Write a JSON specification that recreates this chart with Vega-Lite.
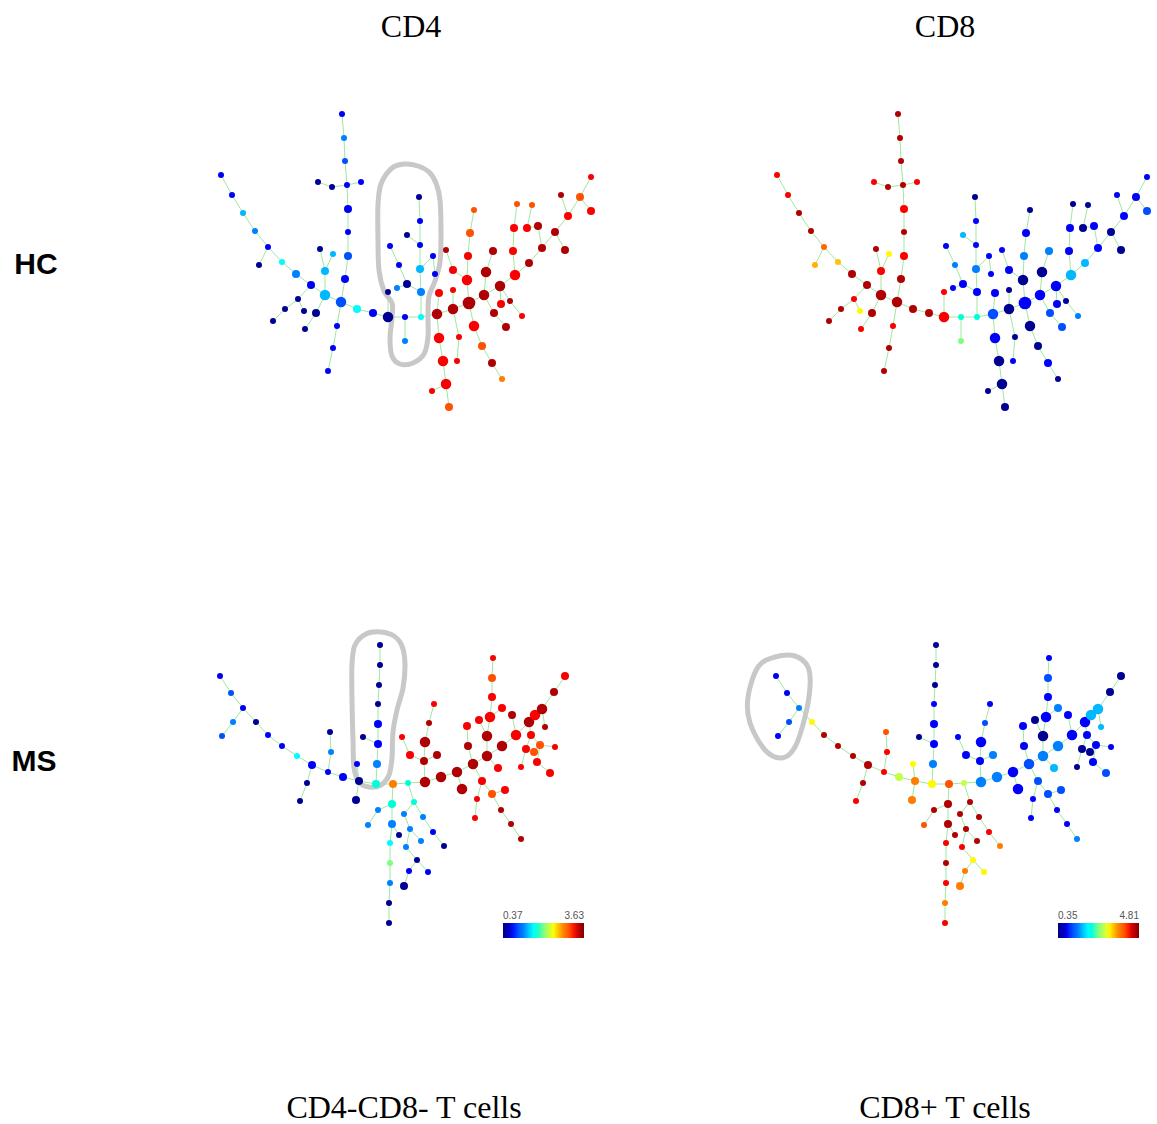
{
  "$schema": "https://vega.github.io/schema/vega-lite/v6.json",
  "width": 1157,
  "height": 1124,
  "autosize": {"type": "none"},
  "padding": 0,
  "background": "#ffffff",
  "config": {"view": {"stroke": null}},
  "datasets": {
    "nodes": [
      {"id":"h1","x":342,"y":114,"s":1,"cd4":0.76,"cd8":4.59},
      {"id":"h2","x":344,"y":138,"s":1,"cd4":1.19,"cd8":4.59},
      {"id":"h3","x":345,"y":161,"s":1,"cd4":0.96,"cd8":4.59},
      {"id":"h4","x":347,"y":185,"s":1,"cd4":0.76,"cd8":4.59},
      {"id":"h5","x":318,"y":182,"s":1,"cd4":0.44,"cd8":4.27},
      {"id":"h6","x":332,"y":187,"s":1,"cd4":0.44,"cd8":4.59},
      {"id":"h7","x":361,"y":182,"s":1,"cd4":0.76,"cd8":4.27},
      {"id":"h8","x":348,"y":209,"s":2,"cd4":0.76,"cd8":4.27},
      {"id":"h9","x":348,"y":232,"s":1,"cd4":0.76,"cd8":4.59},
      {"id":"h10","x":348,"y":256,"s":2,"cd4":0.96,"cd8":4.27},
      {"id":"h11","x":345,"y":279,"s":2,"cd4":0.76,"cd8":4.59},
      {"id":"h12","x":341,"y":302,"s":3,"cd4":0.96,"cd8":4.59},
      {"id":"h13","x":337,"y":326,"s":1,"cd4":0.76,"cd8":4.27},
      {"id":"h14","x":333,"y":348,"s":1,"cd4":0.76,"cd8":4.59},
      {"id":"h15","x":328,"y":371,"s":1,"cd4":0.76,"cd8":4.59},
      {"id":"h16","x":221,"y":175,"s":1,"cd4":0.76,"cd8":4.27},
      {"id":"h17","x":232,"y":195,"s":1,"cd4":0.76,"cd8":4.27},
      {"id":"h18","x":243,"y":213,"s":1,"cd4":1.35,"cd8":4.59},
      {"id":"h19","x":255,"y":231,"s":1,"cd4":1.19,"cd8":4.59},
      {"id":"h20","x":268,"y":247,"s":1,"cd4":0.76,"cd8":3.85},
      {"id":"h21","x":259,"y":265,"s":1,"cd4":0.44,"cd8":3.47},
      {"id":"h22","x":282,"y":262,"s":1,"cd4":1.58,"cd8":3.4},
      {"id":"h23","x":296,"y":274,"s":2,"cd4":1.19,"cd8":4.59},
      {"id":"h24","x":311,"y":285,"s":2,"cd4":0.76,"cd8":4.59},
      {"id":"h25","x":325,"y":295,"s":3,"cd4":1.35,"cd8":4.59},
      {"id":"h26","x":320,"y":249,"s":1,"cd4":0.44,"cd8":4.59},
      {"id":"h27","x":333,"y":254,"s":1,"cd4":1.35,"cd8":3.16},
      {"id":"h28","x":325,"y":271,"s":2,"cd4":1.35,"cd8":4.27},
      {"id":"h29","x":298,"y":299,"s":1,"cd4":0.44,"cd8":4.27},
      {"id":"h30","x":285,"y":309,"s":1,"cd4":0.44,"cd8":4.59},
      {"id":"h31","x":273,"y":321,"s":1,"cd4":0.44,"cd8":4.59},
      {"id":"h32","x":304,"y":311,"s":1,"cd4":0.44,"cd8":3.16},
      {"id":"h33","x":316,"y":313,"s":2,"cd4":0.44,"cd8":4.59},
      {"id":"h34","x":305,"y":329,"s":1,"cd4":0.44,"cd8":4.27},
      {"id":"h35","x":357,"y":309,"s":2,"cd4":1.58,"cd8":4.59},
      {"id":"h36","x":373,"y":313,"s":2,"cd4":0.76,"cd8":4.59},
      {"id":"h37","x":388,"y":317,"s":3,"cd4":0.44,"cd8":4.27},
      {"id":"h38","x":388,"y":292,"s":1,"cd4":0.44,"cd8":4.27},
      {"id":"h39","x":405,"y":317,"s":1,"cd4":0.76,"cd8":2.22},
      {"id":"h40","x":405,"y":341,"s":1,"cd4":1.19,"cd8":2.58},
      {"id":"h41","x":421,"y":317,"s":1,"cd4":1.58,"cd8":2.22},
      {"id":"h42","x":421,"y":292,"s":2,"cd4":1.19,"cd8":0.89},
      {"id":"h43","x":420,"y":269,"s":2,"cd4":1.35,"cd8":1.47},
      {"id":"h44","x":420,"y":245,"s":1,"cd4":0.76,"cd8":0.89},
      {"id":"h45","x":420,"y":221,"s":1,"cd4":0.76,"cd8":0.89},
      {"id":"h46","x":419,"y":197,"s":1,"cd4":0.44,"cd8":0.44},
      {"id":"h47","x":433,"y":256,"s":1,"cd4":0.76,"cd8":0.89},
      {"id":"h48","x":435,"y":274,"s":1,"cd4":0.76,"cd8":0.89},
      {"id":"h49","x":407,"y":235,"s":1,"cd4":0.44,"cd8":1.69},
      {"id":"h50","x":407,"y":284,"s":2,"cd4":0.44,"cd8":0.89},
      {"id":"h51","x":399,"y":265,"s":1,"cd4":0.76,"cd8":1.47},
      {"id":"h52","x":390,"y":246,"s":1,"cd4":0.76,"cd8":0.89},
      {"id":"h53","x":397,"y":288,"s":1,"cd4":1.19,"cd8":0.89},
      {"id":"h54","x":437,"y":314,"s":3,"cd4":3.47,"cd8":1.15},
      {"id":"h55","x":439,"y":293,"s":2,"cd4":3.24,"cd8":0.89},
      {"id":"h56","x":439,"y":338,"s":3,"cd4":3.24,"cd8":0.89},
      {"id":"h57","x":443,"y":361,"s":3,"cd4":3.24,"cd8":0.44},
      {"id":"h58","x":446,"y":384,"s":3,"cd4":3.24,"cd8":0.44},
      {"id":"h59","x":432,"y":391,"s":1,"cd4":3.24,"cd8":0.44},
      {"id":"h60","x":449,"y":407,"s":2,"cd4":3.04,"cd8":0.44},
      {"id":"h61","x":459,"y":337,"s":1,"cd4":3.24,"cd8":0.44},
      {"id":"h62","x":457,"y":361,"s":1,"cd4":3.24,"cd8":0.89},
      {"id":"h63","x":453,"y":309,"s":3,"cd4":3.47,"cd8":0.44},
      {"id":"h64","x":453,"y":290,"s":1,"cd4":3.24,"cd8":0.44},
      {"id":"h65","x":469,"y":303,"s":4,"cd4":3.47,"cd8":0.89},
      {"id":"h66","x":467,"y":280,"s":3,"cd4":3.24,"cd8":0.44},
      {"id":"h67","x":468,"y":256,"s":2,"cd4":3.24,"cd8":1.47},
      {"id":"h68","x":470,"y":233,"s":2,"cd4":3.04,"cd8":0.89},
      {"id":"h69","x":474,"y":210,"s":1,"cd4":3.04,"cd8":0.44},
      {"id":"h70","x":453,"y":270,"s":2,"cd4":3.24,"cd8":0.89},
      {"id":"h71","x":446,"y":250,"s":1,"cd4":3.47,"cd8":0.89},
      {"id":"h72","x":474,"y":326,"s":3,"cd4":3.24,"cd8":0.44},
      {"id":"h73","x":482,"y":346,"s":2,"cd4":3.04,"cd8":0.44},
      {"id":"h74","x":492,"y":363,"s":2,"cd4":3.47,"cd8":0.89},
      {"id":"h75","x":502,"y":379,"s":1,"cd4":2.82,"cd8":0.44},
      {"id":"h76","x":484,"y":295,"s":3,"cd4":3.47,"cd8":0.89},
      {"id":"h77","x":486,"y":272,"s":3,"cd4":3.47,"cd8":0.44},
      {"id":"h78","x":493,"y":251,"s":2,"cd4":3.47,"cd8":1.47},
      {"id":"h79","x":494,"y":313,"s":2,"cd4":3.47,"cd8":1.15},
      {"id":"h80","x":506,"y":327,"s":2,"cd4":3.47,"cd8":1.15},
      {"id":"h81","x":500,"y":286,"s":3,"cd4":3.47,"cd8":0.89},
      {"id":"h82","x":501,"y":304,"s":2,"cd4":3.24,"cd8":0.89},
      {"id":"h83","x":510,"y":301,"s":1,"cd4":3.47,"cd8":0.44},
      {"id":"h84","x":522,"y":316,"s":1,"cd4":3.24,"cd8":1.47},
      {"id":"h85","x":515,"y":275,"s":3,"cd4":3.24,"cd8":1.69},
      {"id":"h86","x":513,"y":251,"s":2,"cd4":3.24,"cd8":0.89},
      {"id":"h87","x":514,"y":228,"s":2,"cd4":3.24,"cd8":0.89},
      {"id":"h88","x":517,"y":204,"s":1,"cd4":3.04,"cd8":0.44},
      {"id":"h89","x":527,"y":228,"s":2,"cd4":3.24,"cd8":0.44},
      {"id":"h90","x":532,"y":205,"s":1,"cd4":3.04,"cd8":0.44},
      {"id":"h91","x":529,"y":263,"s":2,"cd4":3.47,"cd8":1.69},
      {"id":"h92","x":538,"y":226,"s":2,"cd4":3.47,"cd8":0.89},
      {"id":"h93","x":542,"y":248,"s":2,"cd4":3.47,"cd8":0.89},
      {"id":"h94","x":555,"y":232,"s":2,"cd4":3.47,"cd8":0.44},
      {"id":"h95","x":565,"y":250,"s":2,"cd4":3.47,"cd8":0.44},
      {"id":"h96","x":561,"y":195,"s":1,"cd4":3.47,"cd8":0.89},
      {"id":"h97","x":568,"y":216,"s":2,"cd4":3.24,"cd8":0.89},
      {"id":"h98","x":580,"y":197,"s":2,"cd4":3.04,"cd8":0.89},
      {"id":"h99","x":591,"y":177,"s":1,"cd4":3.24,"cd8":0.89},
      {"id":"h100","x":591,"y":211,"s":2,"cd4":3.24,"cd8":1.15},
      {"id":"m1","x":220,"y":676,"s":1,"cd4":0.76,"cd8":0.89},
      {"id":"m2","x":231,"y":693,"s":1,"cd4":0.96,"cd8":0.89},
      {"id":"m3","x":243,"y":708,"s":1,"cd4":0.76,"cd8":1.47},
      {"id":"m4","x":233,"y":722,"s":1,"cd4":1.19,"cd8":1.15},
      {"id":"m5","x":222,"y":736,"s":1,"cd4":0.96,"cd8":0.89},
      {"id":"m6","x":256,"y":722,"s":1,"cd4":0.44,"cd8":3.16},
      {"id":"m7","x":268,"y":735,"s":1,"cd4":0.76,"cd8":4.59},
      {"id":"m8","x":282,"y":746,"s":1,"cd4":0.76,"cd8":4.59},
      {"id":"m9","x":297,"y":756,"s":1,"cd4":1.58,"cd8":4.59},
      {"id":"m10","x":312,"y":765,"s":2,"cd4":0.76,"cd8":4.59},
      {"id":"m11","x":307,"y":783,"s":1,"cd4":0.44,"cd8":4.59},
      {"id":"m12","x":300,"y":801,"s":1,"cd4":0.44,"cd8":4.27},
      {"id":"m13","x":328,"y":772,"s":1,"cd4":0.76,"cd8":4.27},
      {"id":"m14","x":331,"y":752,"s":1,"cd4":1.19,"cd8":4.27},
      {"id":"m15","x":330,"y":732,"s":1,"cd4":0.44,"cd8":4.0},
      {"id":"m16","x":343,"y":777,"s":2,"cd4":0.76,"cd8":2.89},
      {"id":"m17","x":359,"y":781,"s":2,"cd4":0.44,"cd8":3.7},
      {"id":"m18","x":356,"y":800,"s":2,"cd4":0.44,"cd8":3.7},
      {"id":"m19","x":357,"y":764,"s":1,"cd4":0.76,"cd8":3.16},
      {"id":"m20","x":376,"y":784,"s":2,"cd4":1.74,"cd8":3.16},
      {"id":"m21","x":363,"y":737,"s":1,"cd4":0.44,"cd8":0.44},
      {"id":"m22","x":380,"y":645,"s":1,"cd4":0.44,"cd8":0.44},
      {"id":"m23","x":380,"y":665,"s":1,"cd4":0.44,"cd8":0.44},
      {"id":"m24","x":379,"y":685,"s":1,"cd4":0.44,"cd8":0.44},
      {"id":"m25","x":378,"y":704,"s":1,"cd4":0.44,"cd8":0.89},
      {"id":"m26","x":378,"y":724,"s":2,"cd4":0.76,"cd8":0.89},
      {"id":"m27","x":378,"y":744,"s":2,"cd4":0.76,"cd8":0.89},
      {"id":"m28","x":377,"y":764,"s":2,"cd4":1.19,"cd8":1.47},
      {"id":"m29","x":393,"y":784,"s":2,"cd4":2.82,"cd8":4.0},
      {"id":"m30","x":392,"y":804,"s":2,"cd4":1.74,"cd8":4.59},
      {"id":"m31","x":378,"y":810,"s":1,"cd4":1.19,"cd8":4.59},
      {"id":"m32","x":368,"y":825,"s":1,"cd4":1.19,"cd8":4.0},
      {"id":"m33","x":392,"y":824,"s":2,"cd4":1.19,"cd8":4.59},
      {"id":"m34","x":399,"y":835,"s":1,"cd4":0.44,"cd8":4.59},
      {"id":"m35","x":390,"y":843,"s":1,"cd4":1.58,"cd8":4.27},
      {"id":"m36","x":390,"y":863,"s":1,"cd4":2.0,"cd8":4.59},
      {"id":"m37","x":390,"y":883,"s":1,"cd4":1.19,"cd8":4.27},
      {"id":"m38","x":389,"y":903,"s":1,"cd4":0.44,"cd8":3.7},
      {"id":"m39","x":389,"y":923,"s":1,"cd4":0.44,"cd8":4.27},
      {"id":"m40","x":408,"y":783,"s":1,"cd4":1.74,"cd8":2.89},
      {"id":"m41","x":414,"y":802,"s":1,"cd4":1.74,"cd8":4.59},
      {"id":"m42","x":404,"y":814,"s":1,"cd4":1.19,"cd8":4.59},
      {"id":"m43","x":423,"y":817,"s":1,"cd4":1.19,"cd8":4.59},
      {"id":"m44","x":410,"y":829,"s":1,"cd4":1.19,"cd8":4.59},
      {"id":"m45","x":433,"y":832,"s":1,"cd4":0.76,"cd8":4.27},
      {"id":"m46","x":421,"y":841,"s":1,"cd4":1.19,"cd8":4.59},
      {"id":"m47","x":444,"y":846,"s":1,"cd4":0.44,"cd8":3.7},
      {"id":"m48","x":406,"y":847,"s":1,"cd4":1.19,"cd8":4.27},
      {"id":"m49","x":417,"y":860,"s":1,"cd4":0.44,"cd8":3.16},
      {"id":"m50","x":409,"y":871,"s":1,"cd4":0.76,"cd8":3.7},
      {"id":"m51","x":428,"y":872,"s":1,"cd4":0.76,"cd8":3.16},
      {"id":"m52","x":404,"y":886,"s":2,"cd4":0.44,"cd8":3.7},
      {"id":"m53","x":425,"y":782,"s":3,"cd4":3.47,"cd8":1.47},
      {"id":"m54","x":441,"y":777,"s":3,"cd4":3.47,"cd8":1.47},
      {"id":"m55","x":457,"y":772,"s":3,"cd4":3.47,"cd8":0.89},
      {"id":"m56","x":462,"y":789,"s":3,"cd4":3.47,"cd8":0.89},
      {"id":"m57","x":473,"y":764,"s":3,"cd4":3.47,"cd8":1.15},
      {"id":"m58","x":482,"y":781,"s":2,"cd4":3.24,"cd8":1.15},
      {"id":"m59","x":477,"y":799,"s":1,"cd4":3.24,"cd8":0.89},
      {"id":"m60","x":475,"y":818,"s":1,"cd4":3.24,"cd8":0.89},
      {"id":"m61","x":492,"y":794,"s":2,"cd4":3.04,"cd8":1.15},
      {"id":"m62","x":501,"y":810,"s":1,"cd4":3.47,"cd8":0.89},
      {"id":"m63","x":511,"y":824,"s":1,"cd4":3.47,"cd8":0.89},
      {"id":"m64","x":521,"y":839,"s":1,"cd4":3.47,"cd8":1.47},
      {"id":"m65","x":505,"y":790,"s":2,"cd4":3.24,"cd8":1.15},
      {"id":"m66","x":498,"y":768,"s":2,"cd4":3.24,"cd8":1.69},
      {"id":"m67","x":487,"y":756,"s":3,"cd4":3.47,"cd8":1.47},
      {"id":"m68","x":502,"y":746,"s":3,"cd4":3.47,"cd8":1.47},
      {"id":"m69","x":468,"y":746,"s":2,"cd4":3.47,"cd8":0.89},
      {"id":"m70","x":467,"y":726,"s":2,"cd4":3.24,"cd8":0.89},
      {"id":"m71","x":487,"y":736,"s":3,"cd4":3.47,"cd8":0.44},
      {"id":"m72","x":479,"y":720,"s":2,"cd4":3.24,"cd8":0.44},
      {"id":"m73","x":490,"y":717,"s":3,"cd4":3.24,"cd8":0.89},
      {"id":"m74","x":492,"y":697,"s":2,"cd4":3.24,"cd8":0.89},
      {"id":"m75","x":492,"y":678,"s":2,"cd4":3.04,"cd8":1.15},
      {"id":"m76","x":493,"y":658,"s":1,"cd4":3.24,"cd8":0.89},
      {"id":"m77","x":502,"y":708,"s":2,"cd4":3.24,"cd8":1.47},
      {"id":"m78","x":512,"y":715,"s":2,"cd4":3.47,"cd8":0.89},
      {"id":"m79","x":516,"y":735,"s":3,"cd4":3.24,"cd8":0.89},
      {"id":"m80","x":529,"y":722,"s":3,"cd4":3.47,"cd8":0.89},
      {"id":"m81","x":535,"y":715,"s":3,"cd4":3.24,"cd8":1.69},
      {"id":"m82","x":542,"y":709,"s":3,"cd4":3.47,"cd8":1.69},
      {"id":"m83","x":554,"y":692,"s":2,"cd4":3.47,"cd8":0.44},
      {"id":"m84","x":565,"y":676,"s":2,"cd4":3.24,"cd8":0.44},
      {"id":"m85","x":545,"y":727,"s":1,"cd4":3.47,"cd8":1.69},
      {"id":"m86","x":531,"y":735,"s":2,"cd4":3.24,"cd8":0.89},
      {"id":"m87","x":526,"y":749,"s":2,"cd4":3.24,"cd8":0.44},
      {"id":"m88","x":534,"y":752,"s":2,"cd4":3.04,"cd8":0.44},
      {"id":"m89","x":540,"y":745,"s":2,"cd4":3.04,"cd8":0.89},
      {"id":"m90","x":555,"y":747,"s":1,"cd4":3.24,"cd8":0.89},
      {"id":"m91","x":537,"y":762,"s":2,"cd4":3.24,"cd8":0.89},
      {"id":"m92","x":550,"y":773,"s":2,"cd4":3.24,"cd8":1.15},
      {"id":"m93","x":521,"y":767,"s":1,"cd4":3.24,"cd8":0.44},
      {"id":"m94","x":434,"y":704,"s":1,"cd4":3.24,"cd8":0.89},
      {"id":"m95","x":429,"y":723,"s":1,"cd4":3.47,"cd8":1.15},
      {"id":"m96","x":425,"y":742,"s":3,"cd4":3.47,"cd8":0.89},
      {"id":"m97","x":424,"y":761,"s":2,"cd4":3.47,"cd8":0.89},
      {"id":"m98","x":437,"y":755,"s":2,"cd4":3.47,"cd8":1.47},
      {"id":"m99","x":410,"y":755,"s":2,"cd4":3.24,"cd8":0.89},
      {"id":"m100","x":402,"y":737,"s":1,"cd4":3.24,"cd8":0.89}
    ],
    "edges": [
      {"s":"h1","t":"h2"},{"s":"h2","t":"h3"},{"s":"h3","t":"h4"},{"s":"h4","t":"h6"},{"s":"h6","t":"h5"},
      {"s":"h4","t":"h7"},{"s":"h4","t":"h8"},{"s":"h8","t":"h9"},{"s":"h9","t":"h10"},{"s":"h10","t":"h11"},
      {"s":"h11","t":"h12"},{"s":"h12","t":"h13"},{"s":"h13","t":"h14"},{"s":"h14","t":"h15"},
      {"s":"h16","t":"h17"},{"s":"h17","t":"h18"},{"s":"h18","t":"h19"},{"s":"h19","t":"h20"},{"s":"h20","t":"h21"},
      {"s":"h20","t":"h22"},{"s":"h22","t":"h23"},{"s":"h23","t":"h24"},{"s":"h24","t":"h25"},
      {"s":"h25","t":"h28"},{"s":"h28","t":"h26"},{"s":"h28","t":"h27"},
      {"s":"h24","t":"h29"},{"s":"h29","t":"h30"},{"s":"h30","t":"h31"},{"s":"h29","t":"h32"},
      {"s":"h25","t":"h33"},{"s":"h33","t":"h34"},
      {"s":"h25","t":"h12"},{"s":"h12","t":"h35"},{"s":"h35","t":"h36"},{"s":"h36","t":"h37"},{"s":"h37","t":"h38"},
      {"s":"h37","t":"h39"},{"s":"h39","t":"h40"},{"s":"h39","t":"h41"},
      {"s":"h41","t":"h42"},{"s":"h42","t":"h43"},{"s":"h43","t":"h44"},{"s":"h44","t":"h45"},{"s":"h45","t":"h46"},
      {"s":"h43","t":"h47"},{"s":"h47","t":"h48"},{"s":"h44","t":"h49"},{"s":"h42","t":"h50"},{"s":"h50","t":"h51"},
      {"s":"h51","t":"h52"},{"s":"h50","t":"h53"},
      {"s":"h41","t":"h54"},{"s":"h54","t":"h55"},{"s":"h54","t":"h56"},{"s":"h56","t":"h57"},{"s":"h57","t":"h58"},
      {"s":"h58","t":"h59"},{"s":"h58","t":"h60"},
      {"s":"h54","t":"h63"},{"s":"h63","t":"h61"},{"s":"h61","t":"h62"},{"s":"h63","t":"h64"},{"s":"h63","t":"h65"},
      {"s":"h65","t":"h66"},{"s":"h66","t":"h67"},{"s":"h67","t":"h68"},{"s":"h68","t":"h69"},{"s":"h66","t":"h70"},
      {"s":"h70","t":"h71"},
      {"s":"h65","t":"h72"},{"s":"h72","t":"h73"},{"s":"h73","t":"h74"},{"s":"h74","t":"h75"},
      {"s":"h65","t":"h76"},{"s":"h76","t":"h77"},{"s":"h77","t":"h78"},{"s":"h76","t":"h79"},{"s":"h79","t":"h80"},
      {"s":"h76","t":"h81"},{"s":"h81","t":"h82"},{"s":"h81","t":"h83"},{"s":"h83","t":"h84"},
      {"s":"h81","t":"h85"},{"s":"h85","t":"h86"},{"s":"h86","t":"h87"},{"s":"h87","t":"h88"},{"s":"h85","t":"h91"},
      {"s":"h91","t":"h93"},{"s":"h93","t":"h92"},{"s":"h92","t":"h89"},{"s":"h89","t":"h90"},{"s":"h93","t":"h94"},
      {"s":"h94","t":"h95"},{"s":"h94","t":"h97"},{"s":"h97","t":"h96"},{"s":"h97","t":"h98"},{"s":"h98","t":"h99"},
      {"s":"h98","t":"h100"},
      {"s":"m1","t":"m2"},{"s":"m2","t":"m3"},{"s":"m3","t":"m4"},{"s":"m4","t":"m5"},{"s":"m3","t":"m6"},
      {"s":"m6","t":"m7"},{"s":"m7","t":"m8"},{"s":"m8","t":"m9"},{"s":"m9","t":"m10"},{"s":"m10","t":"m11"},
      {"s":"m11","t":"m12"},{"s":"m10","t":"m13"},{"s":"m13","t":"m14"},{"s":"m14","t":"m15"},{"s":"m13","t":"m16"},
      {"s":"m16","t":"m17"},{"s":"m17","t":"m18"},{"s":"m17","t":"m19"},{"s":"m17","t":"m20"},{"s":"m27","t":"m21"},
      {"s":"m22","t":"m23"},{"s":"m23","t":"m24"},{"s":"m24","t":"m25"},{"s":"m25","t":"m26"},{"s":"m26","t":"m27"},
      {"s":"m27","t":"m28"},{"s":"m28","t":"m20"},
      {"s":"m20","t":"m29"},{"s":"m29","t":"m30"},{"s":"m30","t":"m33"},{"s":"m33","t":"m35"},{"s":"m35","t":"m36"},
      {"s":"m36","t":"m37"},{"s":"m37","t":"m38"},{"s":"m38","t":"m39"},{"s":"m30","t":"m31"},{"s":"m31","t":"m32"},
      {"s":"m33","t":"m34"},
      {"s":"m29","t":"m40"},{"s":"m40","t":"m41"},{"s":"m41","t":"m43"},{"s":"m43","t":"m45"},{"s":"m45","t":"m47"},
      {"s":"m41","t":"m42"},{"s":"m42","t":"m44"},{"s":"m44","t":"m46"},{"s":"m44","t":"m48"},{"s":"m48","t":"m49"},
      {"s":"m49","t":"m50"},{"s":"m49","t":"m51"},{"s":"m50","t":"m52"},
      {"s":"m40","t":"m53"},{"s":"m53","t":"m54"},{"s":"m54","t":"m55"},{"s":"m55","t":"m57"},{"s":"m55","t":"m56"},
      {"s":"m53","t":"m97"},{"s":"m97","t":"m96"},{"s":"m96","t":"m95"},{"s":"m95","t":"m94"},{"s":"m97","t":"m99"},
      {"s":"m99","t":"m100"},{"s":"m97","t":"m98"},
      {"s":"m57","t":"m69"},{"s":"m69","t":"m70"},{"s":"m57","t":"m67"},{"s":"m67","t":"m68"},{"s":"m68","t":"m79"},
      {"s":"m79","t":"m80"},{"s":"m80","t":"m82"},{"s":"m82","t":"m83"},{"s":"m83","t":"m84"},{"s":"m80","t":"m81"},
      {"s":"m82","t":"m85"},
      {"s":"m57","t":"m58"},{"s":"m58","t":"m59"},{"s":"m59","t":"m60"},{"s":"m58","t":"m61"},{"s":"m61","t":"m62"},
      {"s":"m62","t":"m63"},{"s":"m63","t":"m64"},{"s":"m61","t":"m65"},{"s":"m66","t":"m67"},
      {"s":"m67","t":"m71"},{"s":"m71","t":"m72"},{"s":"m71","t":"m73"},{"s":"m73","t":"m74"},{"s":"m74","t":"m75"},
      {"s":"m75","t":"m76"},{"s":"m73","t":"m77"},{"s":"m79","t":"m78"},
      {"s":"m80","t":"m86"},{"s":"m86","t":"m89"},{"s":"m89","t":"m90"},{"s":"m89","t":"m91"},{"s":"m91","t":"m92"},
      {"s":"m86","t":"m87"},{"s":"m87","t":"m93"},{"s":"m89","t":"m88"}
    ],
    "outlines": [
      {"o":"hcCD4","k":1,"x":392,"y":168},{"o":"hcCD4","k":2,"x":405,"y":164},{"o":"hcCD4","k":3,"x":418,"y":166},
      {"o":"hcCD4","k":4,"x":429,"y":172},{"o":"hcCD4","k":5,"x":436,"y":183},{"o":"hcCD4","k":6,"x":440,"y":200},
      {"o":"hcCD4","k":7,"x":441,"y":233},{"o":"hcCD4","k":8,"x":440,"y":262},{"o":"hcCD4","k":9,"x":435,"y":281},
      {"o":"hcCD4","k":10,"x":429,"y":296},{"o":"hcCD4","k":11,"x":428,"y":315},{"o":"hcCD4","k":12,"x":428,"y":337},
      {"o":"hcCD4","k":13,"x":424,"y":354},{"o":"hcCD4","k":14,"x":413,"y":363},{"o":"hcCD4","k":15,"x":400,"y":364},
      {"o":"hcCD4","k":16,"x":392,"y":356},{"o":"hcCD4","k":17,"x":390,"y":338},{"o":"hcCD4","k":18,"x":392,"y":318},
      {"o":"hcCD4","k":19,"x":392,"y":303},{"o":"hcCD4","k":20,"x":384,"y":291},{"o":"hcCD4","k":21,"x":379,"y":270},
      {"o":"hcCD4","k":22,"x":378,"y":240},{"o":"hcCD4","k":23,"x":378,"y":205},{"o":"hcCD4","k":24,"x":381,"y":184},
      {"o":"msCD4","k":1,"x":366,"y":634},{"o":"msCD4","k":2,"x":381,"y":632},{"o":"msCD4","k":3,"x":394,"y":636},
      {"o":"msCD4","k":4,"x":402,"y":646},{"o":"msCD4","k":5,"x":405,"y":664},{"o":"msCD4","k":6,"x":403,"y":688},
      {"o":"msCD4","k":7,"x":397,"y":710},{"o":"msCD4","k":8,"x":393,"y":732},{"o":"msCD4","k":9,"x":392,"y":758},
      {"o":"msCD4","k":10,"x":389,"y":775},{"o":"msCD4","k":11,"x":381,"y":785},{"o":"msCD4","k":12,"x":369,"y":787},
      {"o":"msCD4","k":13,"x":359,"y":782},{"o":"msCD4","k":14,"x":354,"y":768},{"o":"msCD4","k":15,"x":353,"y":740},
      {"o":"msCD4","k":16,"x":352,"y":700},{"o":"msCD4","k":17,"x":352,"y":664},{"o":"msCD4","k":18,"x":355,"y":645},
      {"o":"msCD8","k":1,"x":219,"y":657},{"o":"msCD8","k":2,"x":239,"y":656},{"o":"msCD8","k":3,"x":252,"y":667},
      {"o":"msCD8","k":4,"x":254,"y":687},{"o":"msCD8","k":5,"x":249,"y":717},{"o":"msCD8","k":6,"x":239,"y":747},
      {"o":"msCD8","k":7,"x":226,"y":758},{"o":"msCD8","k":8,"x":209,"y":750},{"o":"msCD8","k":9,"x":194,"y":723},
      {"o":"msCD8","k":10,"x":192,"y":697},{"o":"msCD8","k":11,"x":202,"y":667}
    ],
    "labels": [
      {"text":"CD4","kind":"serif","x":411,"y":27},
      {"text":"CD8","kind":"serif","x":945,"y":27},
      {"text":"CD4-CD8- T cells","kind":"serif","x":404,"y":1108},
      {"text":"CD8+ T cells","kind":"serif","x":945,"y":1108},
      {"text":"HC","kind":"sans","x":36,"y":265},
      {"text":"MS","kind":"sans","x":34,"y":762}
    ]
  },
  "layer": [
    {
      "layer": [
        {
          "data": {"name": "edges"},
          "transform": [
            {"lookup": "s", "from": {"data": {"name": "nodes"}, "key": "id", "fields": ["x", "y"]}, "as": ["xa", "ya"]},
            {"lookup": "t", "from": {"data": {"name": "nodes"}, "key": "id", "fields": ["x", "y"]}, "as": ["xb", "yb"]}
          ],
          "mark": {"type": "rule", "stroke": "#9fe89f", "strokeWidth": 1},
          "encoding": {
            "x": {"field": "xa", "type": "quantitative", "scale": {"domain": [0, 1157], "nice": false, "zero": false}, "axis": null},
            "y": {"field": "ya", "type": "quantitative", "scale": {"domain": [0, 1124], "nice": false, "zero": false, "reverse": true}, "axis": null},
            "x2": {"field": "xb"},
            "y2": {"field": "yb"}
          }
        },
        {
          "data": {"name": "outlines"},
          "transform": [{"filter": "datum.o !== 'msCD8'"}],
          "mark": {"type": "line", "interpolate": "cardinal-closed", "stroke": "#c8c8c8", "strokeWidth": 5},
          "encoding": {
            "x": {"field": "x", "type": "quantitative"},
            "y": {"field": "y", "type": "quantitative"},
            "detail": {"field": "o"},
            "order": {"field": "k", "type": "quantitative"}
          }
        },
        {
          "data": {"name": "nodes"},
          "mark": {"type": "circle", "opacity": 1},
          "encoding": {
            "x": {"field": "x", "type": "quantitative"},
            "y": {"field": "y", "type": "quantitative"},
            "size": {"field": "s", "type": "quantitative", "scale": {"domain": [1, 2, 3, 4], "range": [36, 64, 110, 161]}, "legend": null},
            "color": {
              "field": "cd4", "type": "quantitative",
              "scale": {
                "domain": [0.37, 0.7775, 1.185, 1.5925, 2.0, 2.4075, 2.815, 3.2225, 3.63],
                "range": ["#00007f", "#0000ff", "#007fff", "#00ffff", "#7fff7f", "#ffff00", "#ff7f00", "#ff0000", "#7f0000"]
              },
              "legend": {
                "orient": "none", "legendX": 503, "legendY": 923, "direction": "horizontal",
                "title": null, "gradientLength": 81, "gradientThickness": 15, "gradientStrokeWidth": 0,
                "values": [0.37, 3.63], "format": ".2f", "labelOffset": -27,
                "labelFont": "Liberation Sans", "labelFontSize": 10, "labelColor": "#555555"
              }
            }
          }
        },
        {
          "data": {"name": "labels"},
          "transform": [{"filter": "datum.kind === 'serif'"}],
          "mark": {"type": "text", "font": "Liberation Serif", "fontSize": 32, "color": "#000000", "baseline": "middle", "align": "center"},
          "encoding": {
            "x": {"field": "x", "type": "quantitative"},
            "y": {"field": "y", "type": "quantitative"},
            "text": {"field": "text"}
          }
        },
        {
          "data": {"name": "labels"},
          "transform": [{"filter": "datum.kind === 'sans'"}],
          "mark": {"type": "text", "font": "Liberation Sans", "fontWeight": "bold", "fontSize": 30, "color": "#000000", "baseline": "middle", "align": "center"},
          "encoding": {
            "x": {"field": "x", "type": "quantitative"},
            "y": {"field": "y", "type": "quantitative"},
            "text": {"field": "text"}
          }
        }
      ]
    },
    {
      "layer": [
        {
          "data": {"name": "edges"},
          "transform": [
            {"lookup": "s", "from": {"data": {"name": "nodes"}, "key": "id", "fields": ["x", "y"]}, "as": ["xa", "ya"]},
            {"lookup": "t", "from": {"data": {"name": "nodes"}, "key": "id", "fields": ["x", "y"]}, "as": ["xb", "yb"]}
          ],
          "mark": {"type": "rule", "stroke": "#9fe89f", "strokeWidth": 1},
          "encoding": {
            "x": {"field": "xa", "type": "quantitative", "scale": {"domain": [-556, 601], "nice": false, "zero": false}, "axis": null},
            "y": {"field": "ya", "type": "quantitative", "scale": {"domain": [0, 1124], "nice": false, "zero": false, "reverse": true}, "axis": null},
            "x2": {"field": "xb"},
            "y2": {"field": "yb"}
          }
        },
        {
          "data": {"name": "outlines"},
          "transform": [{"filter": "datum.o === 'msCD8'"}],
          "mark": {"type": "line", "interpolate": "cardinal-closed", "stroke": "#c8c8c8", "strokeWidth": 5},
          "encoding": {
            "x": {"field": "x", "type": "quantitative"},
            "y": {"field": "y", "type": "quantitative"},
            "detail": {"field": "o"},
            "order": {"field": "k", "type": "quantitative"}
          }
        },
        {
          "data": {"name": "nodes"},
          "mark": {"type": "circle", "opacity": 1},
          "encoding": {
            "x": {"field": "x", "type": "quantitative"},
            "y": {"field": "y", "type": "quantitative"},
            "size": {"field": "s", "type": "quantitative", "scale": {"domain": [1, 2, 3, 4], "range": [36, 64, 110, 161]}, "legend": null},
            "color": {
              "field": "cd8", "type": "quantitative",
              "scale": {
                "domain": [0.35, 0.9075, 1.465, 2.0225, 2.58, 3.1375, 3.695, 4.2525, 4.81],
                "range": ["#00007f", "#0000ff", "#007fff", "#00ffff", "#7fff7f", "#ffff00", "#ff7f00", "#ff0000", "#7f0000"]
              },
              "legend": {
                "orient": "none", "legendX": 1058, "legendY": 923, "direction": "horizontal",
                "title": null, "gradientLength": 81, "gradientThickness": 15, "gradientStrokeWidth": 0,
                "values": [0.35, 4.81], "format": ".2f", "labelOffset": -27,
                "labelFont": "Liberation Sans", "labelFontSize": 10, "labelColor": "#555555"
              }
            }
          }
        }
      ]
    }
  ],
  "resolve": {"scale": {"x": "independent", "color": "independent"}}
}
